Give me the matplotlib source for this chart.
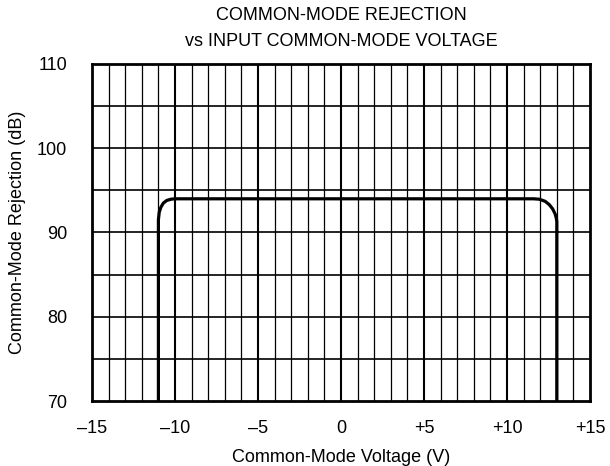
import matplotlib
matplotlib.use("Agg")
import matplotlib.pyplot as plt

plt.rcParams['font.family'] = ['Liberation Sans', 'DejaVu Sans']

# Curve
cm_voltage = [-11.0, -11.0, -10.95, -10.85, -10.7, -10.5, -10.25, -10.0,
              11.6, 11.95, 12.3, 12.55, 12.75, 12.9, 12.97, 13.0, 13.0]
cmr_db = [70.0, 91.5, 92.4, 93.0, 93.5, 93.8, 93.95, 94.0,
          94.0, 93.95, 93.7, 93.3, 92.8, 92.2, 91.7, 91.3, 70.0]

x_ticks = [-15, -10, -5, 0, 5, 10, 15]
x_tick_labels = ['\u201315', '\u201310', '\u20135', '0', '+5', '+10', '+15']
y_ticks = [70, 80, 90, 100, 110]
y_tick_labels = ['70', '80', '90', '100', '110']

fs = 13

fig = plt.figure(figsize=(6.10, 4.66), dpi=100)
ax = fig.add_axes([92/610, 1 - 401/466, (590-92)/610, (401-64)/466])
ax.set_xlim(-15, 15)
ax.set_ylim(70, 110)

# grid
for v in range(-14, 15):
    lw = 1.5 if v % 5 == 0 else 0.9
    ax.axvline(v, color='black', lw=lw, zorder=1)
for h in range(75, 110, 5):
    ax.axhline(h, color='black', lw=1.2, zorder=1)

ax.plot(cm_voltage, cmr_db, color='black', lw=2.3, zorder=3,
        solid_joinstyle='round', solid_capstyle='butt')

ax.set_xticks(x_ticks)
ax.set_xticklabels(x_tick_labels)
ax.set_yticks(y_ticks)
ax.set_yticklabels(y_tick_labels)
ax.tick_params(length=0, labelsize=fs)
ax.tick_params(axis='x', pad=14)
ax.tick_params(axis='y', pad=18)
for s in ax.spines.values():
    s.set_linewidth(2.0)
    s.set_zorder(4)

ax.set_xlabel('Common-Mode Voltage (V)', fontsize=fs, labelpad=8)
ax.set_ylabel('Common-Mode Rejection (dB)', fontsize=fs, labelpad=8)

fig.text(341/610, 1 - 15/466, 'COMMON-MODE REJECTION', ha='center', va='center', fontsize=fs)
fig.text(341/610, 1 - 41/466, 'vs INPUT COMMON-MODE VOLTAGE', ha='center', va='center', fontsize=fs)

fig.savefig('out.png', dpi=100)
